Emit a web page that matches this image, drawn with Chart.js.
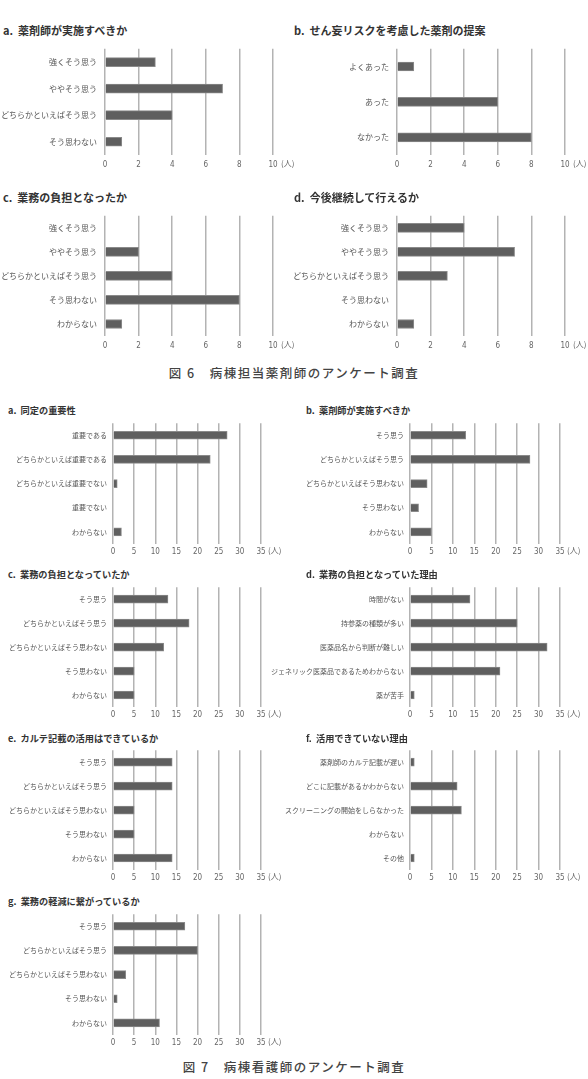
<!DOCTYPE html>
<html><head><meta charset="utf-8">
<script src="https://cdn.jsdelivr.net/npm/chart.js@4.4.1/dist/chart.umd.min.js"></script>
<style>
html,body{margin:0;padding:0;background:#fff;}
body{width:588px;height:1079px;position:relative;overflow:hidden;font-family:"Noto Sans CJK JP",sans-serif;}
.t{position:absolute;white-space:pre;color:#333;font-weight:bold;line-height:1;}
.u{position:absolute;white-space:pre;color:#666;line-height:1;font-family:"Noto Sans CJK JP",sans-serif;}
.cap{position:absolute;white-space:pre;color:#444;line-height:1;font-size:12.5px;letter-spacing:1.5px;left:0;width:588px;text-align:center;font-weight:500;}
canvas{position:absolute;}
</style></head><body>
<script>
// ---- Data ----
const fig6Ticks = [0, 2, 4, 6, 8, 10];
const fig7Ticks = [0, 5, 10, 15, 20, 25, 30, 35];

const f6aLabels = ['強くそう思う', 'ややそう思う', 'どちらかといえばそう思う', 'そう思わない'];
const f6aValues = [3, 7, 4, 1];
const f6bLabels = ['よくあった', 'あった', 'なかった'];
const f6bValues = [1, 6, 8];
const f6cLabels = ['強くそう思う', 'ややそう思う', 'どちらかといえばそう思う', 'そう思わない', 'わからない'];
const f6cValues = [0, 2, 4, 8, 1];
const f6dLabels = ['強くそう思う', 'ややそう思う', 'どちらかといえばそう思う', 'そう思わない', 'わからない'];
const f6dValues = [4, 7, 3, 0, 1];

const f7aLabels = ['重要である', 'どちらかといえば重要である', 'どちらかといえば重要でない', '重要でない', 'わからない'];
const f7aValues = [27, 23, 1, 0, 2];
const f7bLabels = ['そう思う', 'どちらかといえばそう思う', 'どちらかといえばそう思わない', 'そう思わない', 'わからない'];
const f7bValues = [13, 28, 4, 2, 5];
const f7cLabels = ['そう思う', 'どちらかといえばそう思う', 'どちらかといえばそう思わない', 'そう思わない', 'わからない'];
const f7cValues = [13, 18, 12, 5, 5];
const f7dLabels = ['時間がない', '持参薬の種類が多い', '医薬品名から判断が難しい', 'ジェネリック医薬品であるためわからない', '薬が苦手'];
const f7dValues = [14, 25, 32, 21, 1];
const f7eLabels = ['そう思う', 'どちらかといえばそう思う', 'どちらかといえばそう思わない', 'そう思わない', 'わからない'];
const f7eValues = [14, 14, 5, 5, 14];
const f7fLabels = ['薬剤師のカルテ記載が遅い', 'どこに記載があるかわからない', 'スクリーニングの開始をしらなかった', 'わからない', 'その他'];
const f7fValues = [1, 11, 12, 0, 1];
const f7gLabels = ['そう思う', 'どちらかといえばそう思う', 'どちらかといえばそう思わない', 'そう思わない', 'わからない'];
const f7gValues = [17, 20, 3, 1, 11];

const unitText = '(人)';
const caption6 = '図 6　病棟担当薬剤師のアンケート調査';
const caption7 = '図 7　病棟看護師のアンケート調査';

// ---- Layout ----
const S6 = {bar: 9, lab: 8, tick: 8, tf: 11, lp: 8, tp: 5, uo: 8};
const S7 = {bar: 8, lab: 7, tick: 8, tf: 9.2, lp: 6, tp: 3, uo: 7};
const panels = [
  {labels: f6aLabels, values: f6aValues, ticks: fig6Ticks, title: 'a.  薬剤師が実施すべきか', tx: 3, ty: 30, x0: 105, x1: 273, y0: 42, y1: 155, pr: 294, s: S6},
  {labels: f6bLabels, values: f6bValues, ticks: fig6Ticks, title: 'b.  せん妄リスクを考慮した薬剤の提案', tx: 294, ty: 30, x0: 397, x1: 565, y0: 42, y1: 155, pr: 588, s: S6},
  {labels: f6cLabels, values: f6cValues, ticks: fig6Ticks, title: 'c.  業務の負担となったか', tx: 3, ty: 197, x0: 105, x1: 273, y0: 209, y1: 336, pr: 294, s: S6},
  {labels: f6dLabels, values: f6dValues, ticks: fig6Ticks, title: 'd.  今後継続して行えるか', tx: 294, ty: 197, x0: 397, x1: 565, y0: 209, y1: 336, pr: 588, s: S6},
  {labels: f7aLabels, values: f7aValues, ticks: fig7Ticks, title: 'a.  同定の重要性', tx: 8, ty: 411, x0: 113, x1: 261, y0: 419, y1: 544, pr: 294, s: S7},
  {labels: f7bLabels, values: f7bValues, ticks: fig7Ticks, title: 'b.  薬剤師が実施すべきか', tx: 306, ty: 411, x0: 410, x1: 560, y0: 419, y1: 544, pr: 588, s: S7},
  {labels: f7cLabels, values: f7cValues, ticks: fig7Ticks, title: 'c.  業務の負担となっていたか', tx: 8, ty: 575, x0: 113, x1: 261, y0: 583, y1: 707, pr: 294, s: S7},
  {labels: f7dLabels, values: f7dValues, ticks: fig7Ticks, title: 'd.  業務の負担となっていた理由', tx: 306, ty: 575, x0: 410, x1: 560, y0: 583, y1: 707, pr: 588, s: S7},
  {labels: f7eLabels, values: f7eValues, ticks: fig7Ticks, title: 'e.  カルテ記載の活用はできているか', tx: 8, ty: 739, x0: 113, x1: 261, y0: 746, y1: 870, pr: 294, s: S7},
  {labels: f7fLabels, values: f7fValues, ticks: fig7Ticks, title: 'f.  活用できていない理由', tx: 306, ty: 739, x0: 410, x1: 560, y0: 746, y1: 870, pr: 588, s: S7},
  {labels: f7gLabels, values: f7gValues, ticks: fig7Ticks, title: 'g.  業務の軽減に繋がっているか', tx: 8, ty: 902, x0: 113, x1: 261, y0: 910, y1: 1035, pr: 294, s: S7}
];

const AX = 180, PADT = 6, XH = 22;
const numFont = "'Liberation Sans Narrow','DejaVu Sans Condensed',sans-serif";
const jpFont = "'Noto Sans CJK JP',sans-serif";

function addText(cls, text, left, centerY, size, extra) {
  const d = document.createElement('div');
  d.className = cls;
  d.textContent = text;
  d.style.fontSize = size + 'px';
  d.style.top = (centerY - size / 2) + 'px';
  if (left !== null) d.style.left = left + 'px';
  if (extra) Object.assign(d.style, extra);
  document.body.appendChild(d);
}

panels.forEach(p => {
  const s = p.s;
  addText('t', p.title, p.tx, p.ty, s.tf);
  const c = document.createElement('canvas');
  const left = p.x0 - AX, top = p.y0 - PADT;
  const w = p.pr - left;
  const h = (p.y1 - p.y0) + PADT + XH;
  c.width = w; c.height = h;
  c.style.left = left + 'px'; c.style.top = top + 'px';
  c.style.width = w + 'px'; c.style.height = h + 'px';
  document.body.appendChild(c);
  new Chart(c, {
    type: 'bar',
    data: {labels: p.labels, datasets: [{data: p.values, backgroundColor: '#5f5f5f', borderColor: '#8a8a8a', borderWidth: 1, barThickness: s.bar}]},
    options: {
      indexAxis: 'y', responsive: false, animation: false, devicePixelRatio: 1,
      layout: {padding: {top: PADT, right: p.pr - p.x1, left: 0, bottom: 0}},
      plugins: {legend: {display: false}, tooltip: {enabled: false}, title: {display: false}},
      scales: {
        x: {
          min: p.ticks[0], max: p.ticks[p.ticks.length - 1],
          afterBuildTicks: sc => { sc.ticks = p.ticks.map(v => ({value: v})); },
          grid: {color: '#b3b3b3', lineWidth: 1.5, drawTicks: false},
          border: {display: false},
          ticks: {font: {family: numFont, size: s.tick}, color: '#666', padding: s.tp, maxRotation: 0},
          afterFit: sc => { sc.height = XH; }
        },
        y: {
          grid: {display: false, drawTicks: false}, border: {display: false},
          ticks: {font: {family: jpFont, size: s.lab}, color: '#555', padding: s.lp, autoSkip: false},
          afterFit: sc => { sc.width = AX; }
        }
      }
    }
  });
  addText('u', unitText, p.x1 + s.uo, p.y1 + s.tp + 3, s.tick);
});

addText('cap', caption6, null, 373, 12.5);
addText('cap', caption7, null, 1067, 12.5);
</script>
</body></html>
